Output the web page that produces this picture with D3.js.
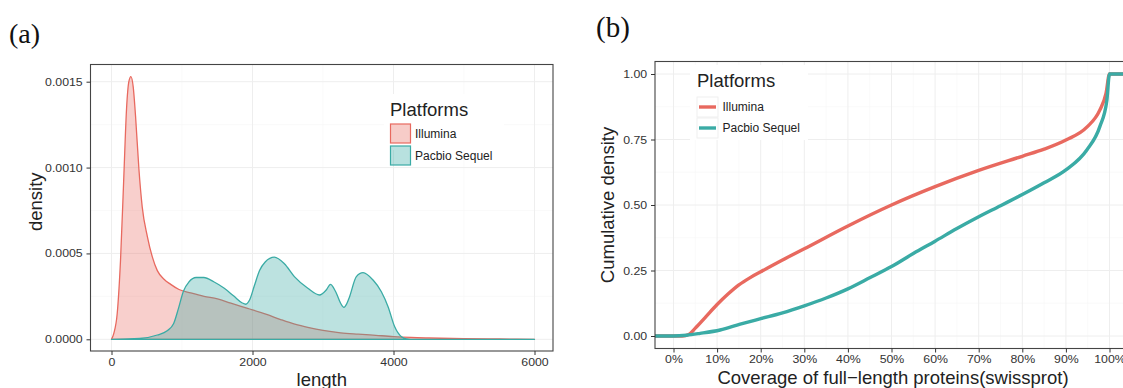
<!DOCTYPE html>
<html>
<head>
<meta charset="utf-8">
<script src="https://cdn.jsdelivr.net/npm/d3@7"></script>
<style>
  body { margin: 0; background: #fff; }
  svg { display: block; font-family: "Liberation Sans", Arial, sans-serif; }
</style>
</head>
<body>
<div id="chart"></div>
<script>
// ---- data ----
const platforms = ["Illumina", "Pacbio Sequel"];

// (a) read-length density
const illuminaLength = [0, 33, 81, 128, 175, 213, 246, 275, 308, 341, 389, 436, 508, 579, 650, 745, 840, 958, 1124, 1313, 1504, 1693, 1931, 2200, 2400, 2600, 2800, 3000, 3250, 3500, 3750, 4000, 4250, 4500, 5000, 5500, 6000];
const illuminaDensity = [0, 0.000035, 0.00015, 0.00046, 0.00095, 0.00134, 0.0015, 0.00153, 0.00147, 0.0013, 0.00099, 0.00077, 0.0006, 0.00048, 0.0004, 0.00035, 0.00032, 0.00029, 0.00027, 0.00025, 0.000235, 0.00021, 0.00018, 0.000145, 0.000115, 0.000088, 0.000068, 0.000052, 0.000038, 0.00003, 0.000023, 0.000016, 0.000011, 0.000008, 0.000004, 0.000002, 0];

const pacbioLength = [0, 400, 650, 790, 880, 950, 1020, 1100, 1200, 1310, 1450, 1600, 1740, 1850, 1905, 1960, 2025, 2100, 2180, 2310, 2452, 2594, 2785, 2950, 3045, 3107, 3150, 3188, 3250, 3297, 3340, 3377, 3473, 3568, 3710, 3828, 3923, 4017, 4113, 4184, 4300, 6000];
const pacbioDensity = [0, 0.000005, 0.000025, 0.00005, 0.00009, 0.00018, 0.00028, 0.000335, 0.00036, 0.00036, 0.000335, 0.000297, 0.00025, 0.000213, 0.000204, 0.00023, 0.00031, 0.0004, 0.00045, 0.000478, 0.00044, 0.000365, 0.000297, 0.000258, 0.000287, 0.00032, 0.0003, 0.00027, 0.00021, 0.000186, 0.00021, 0.000248, 0.000365, 0.000388, 0.000345, 0.000277, 0.00019, 0.000073, 0.000015, 0.000003, 0, 0];

const lengthTicks = [0, 2000, 4000, 6000];
const densityTicks = [0, 0.0005, 0.001, 0.0015];

// (b) cumulative coverage
const illuminaCoverage = [-0.045, 0.02, 0.035, 0.05, 0.075, 0.1, 0.125, 0.15, 0.175, 0.2, 0.25, 0.3, 0.4, 0.5, 0.6, 0.7, 0.8, 0.85, 0.9, 0.948, 0.978, 0.992, 1.0, 1.06];
const illuminaCumulative = [0, 0, 0.006, 0.03, 0.075, 0.12, 0.16, 0.195, 0.222, 0.245, 0.29, 0.333, 0.42, 0.5, 0.57, 0.632, 0.686, 0.713, 0.748, 0.797, 0.863, 0.926, 1.0, 1.0];

const pacbioCoverage = [-0.045, 0, 0.03, 0.061, 0.107, 0.153, 0.2, 0.25, 0.3, 0.35, 0.4, 0.45, 0.5, 0.55, 0.6, 0.65, 0.7, 0.75, 0.8, 0.85, 0.9, 0.948, 0.978, 0.994, 1.0, 1.06];
const pacbioCumulative = [0, 0, 0.003, 0.01, 0.023, 0.045, 0.066, 0.088, 0.115, 0.145, 0.18, 0.222, 0.265, 0.315, 0.362, 0.41, 0.455, 0.497, 0.54, 0.585, 0.634, 0.71, 0.8, 0.9, 1.0, 1.0];

const coverageTicks = [0, 0.1, 0.2, 0.3, 0.4, 0.5, 0.6, 0.7, 0.8, 0.9, 1.0];
const cumulativeTicks = [0, 0.25, 0.5, 0.75, 1.0];

// ---- setup ----
const W = 1123, H = 388;
const colors = { Illumina: "#E8695F", "Pacbio Sequel": "#3AABA5" };
const textCol = "#333";

const svg = d3.select("#chart").append("svg")
  .attr("width", W).attr("height", H)
  .attr("viewBox", [0, 0, W, H]);
svg.append("rect").attr("width", W).attr("height", H).attr("fill", "#fff");

const zip = (a, b) => a.map((v, i) => [v, b[i]]);

function grid(g, x, y, xMajor, yMajor, frame) {
  const xMinor = xMajor.slice(1).map((d, i) => (d + xMajor[i]) / 2);
  const yMinor = yMajor.slice(1).map((d, i) => (d + yMajor[i]) / 2);
  g.selectAll(null).data(xMinor).join("line")
    .attr("x1", x).attr("x2", x).attr("y1", frame.y0).attr("y2", frame.y1)
    .attr("stroke", "#f6f6f6").attr("stroke-width", 0.6);
  g.selectAll(null).data(yMinor).join("line")
    .attr("x1", frame.x0).attr("x2", frame.x1).attr("y1", y).attr("y2", y)
    .attr("stroke", "#f6f6f6").attr("stroke-width", 0.6);
  g.selectAll(null).data(xMajor).join("line")
    .attr("x1", x).attr("x2", x).attr("y1", frame.y0).attr("y2", frame.y1)
    .attr("stroke", "#eeeeee").attr("stroke-width", 1);
  g.selectAll(null).data(yMajor).join("line")
    .attr("x1", frame.x0).attr("x2", frame.x1).attr("y1", y).attr("y2", y)
    .attr("stroke", "#eeeeee").attr("stroke-width", 1);
}

function styleAxis(g) {
  g.select(".domain").remove();
  g.selectAll(".tick line").attr("stroke", textCol);
  g.selectAll(".tick text")
    .attr("fill", textCol)
    .style("font-size", "11px")
    .attr("transform", "scale(1.12,1)");
}

// ====== (a) density panel ======
const frameA = { x0: 90.5, x1: 553, y0: 64.5, y1: 351 };
const xA = d3.scaleLinear().domain([0, 6000]).range([111.5, 534.5]);
const yA = d3.scaleLinear().domain([0, 0.0015]).range([339.3, 81.7]);

svg.append("text").attr("x", 9).attr("y", 43)
  .style("font-family", "'Liberation Serif', 'Times New Roman', serif")
  .style("font-size", "28px").attr("fill", "#111").text("(a)");

const gA = svg.append("g");
gA.append("clipPath").attr("id", "clipA").append("rect")
  .attr("x", frameA.x0).attr("y", frameA.y0)
  .attr("width", frameA.x1 - frameA.x0).attr("height", frameA.y1 - frameA.y0);
grid(gA.append("g"), xA, yA, lengthTicks, densityTicks, frameA);

const area = d3.area()
  .x(d => xA(d[0])).y0(yA(0)).y1(d => yA(d[1]))
  .curve(d3.curveMonotoneX);

const seriesA = [
  { name: "Illumina", pts: zip(illuminaLength, illuminaDensity), op: 0.32 },
  { name: "Pacbio Sequel", pts: zip(pacbioLength, pacbioDensity), op: 0.34 },
];
const plotA = gA.append("g").attr("clip-path", "url(#clipA)");
seriesA.forEach(s => {
  plotA.append("path").datum(s.pts)
    .attr("d", area)
    .attr("fill", colors[s.name]).attr("fill-opacity", s.op)
    .attr("stroke", colors[s.name]).attr("stroke-width", 1.3)
    .attr("stroke-linejoin", "round");
});

gA.append("rect")
  .attr("x", frameA.x0).attr("y", frameA.y0)
  .attr("width", frameA.x1 - frameA.x0).attr("height", frameA.y1 - frameA.y0)
  .attr("fill", "none").attr("stroke", "#444").attr("stroke-width", 1.1);

gA.append("g").attr("transform", `translate(${frameA.x0},0)`)
  .call(d3.axisLeft(yA).tickValues(densityTicks).tickFormat(d3.format(".4f")).tickSize(4).tickPadding(3))
  .call(styleAxis);
gA.append("g").attr("transform", `translate(0,${frameA.y1})`)
  .call(d3.axisBottom(xA).tickValues(lengthTicks).tickFormat(d3.format("d")).tickSize(4).tickPadding(3))
  .call(styleAxis);

gA.append("text").attr("x", (frameA.x0 + frameA.x1) / 2).attr("y", 386)
  .attr("text-anchor", "middle").style("font-size", "18.5px").attr("fill", "#222").text("length");
gA.append("text").attr("transform", `translate(42,${(frameA.y0 + frameA.y1) / 2 - 6}) rotate(-90)`)
  .attr("text-anchor", "middle").style("font-size", "18.5px").attr("fill", "#222").text("density");

// legend (a)
const legA = gA.append("g").attr("transform", "translate(390,116)");
legA.append("rect").attr("x", -6).attr("y", -22).attr("width", 120).attr("height", 56).attr("fill", "#fff");
legA.append("text").attr("x", 0).attr("y", 0).style("font-size", "18.5px").attr("fill", "#222").text("Platforms");
const itemsA = legA.selectAll(".item").data(platforms).join("g")
  .attr("class", "item").attr("transform", (d, i) => `translate(0,${8 + i * 22})`);
itemsA.append("rect").attr("x", 0.5).attr("y", 0).attr("width", 20).attr("height", 19)
  .attr("fill", d => colors[d]).attr("fill-opacity", (d, i) => seriesA[i].op + 0.02)
  .attr("stroke", d => colors[d]).attr("stroke-width", 1.2);
itemsA.append("text").attr("x", 25).attr("y", 14)
  .style("font-size", "12px").attr("fill", "#222").text(d => d);

// ====== (b) cumulative panel ======
const frameB = { x0: 655, x1: 1135, y0: 61.5, y1: 348.5 };
const xB = d3.scaleLinear().domain([0, 1]).range([673.5, 1109.5]);
const yB = d3.scaleLinear().domain([0, 1]).range([336, 74]);

svg.append("text").attr("x", 596).attr("y", 37)
  .style("font-family", "'Liberation Serif', 'Times New Roman', serif")
  .style("font-size", "29px").attr("fill", "#111").text("(b)");

const gB = svg.append("g");
gB.append("clipPath").attr("id", "clipB").append("rect")
  .attr("x", frameB.x0).attr("y", frameB.y0)
  .attr("width", frameB.x1 - frameB.x0).attr("height", frameB.y1 - frameB.y0);
grid(gB.append("g"), xB, yB, coverageTicks, cumulativeTicks, frameB);

const line = d3.line().x(d => xB(d[0])).y(d => yB(d[1])).curve(d3.curveMonotoneX);
const seriesB = [
  { name: "Illumina", pts: zip(illuminaCoverage, illuminaCumulative) },
  { name: "Pacbio Sequel", pts: zip(pacbioCoverage, pacbioCumulative) },
];

// legend (b) background sits under the lines
const legB = gB.append("g").attr("transform", "translate(697,87)");
legB.append("rect").attr("x", -7).attr("y", -22).attr("width", 118).attr("height", 75).attr("fill", "#fff");

const plotB = gB.append("g").attr("clip-path", "url(#clipB)");
seriesB.forEach(s => {
  plotB.append("path").datum(s.pts)
    .attr("d", line).attr("fill", "none")
    .attr("stroke", colors[s.name]).attr("stroke-width", 3.4)
    .attr("stroke-linejoin", "round");
});

gB.append("rect")
  .attr("x", frameB.x0).attr("y", frameB.y0)
  .attr("width", frameB.x1 - frameB.x0).attr("height", frameB.y1 - frameB.y0)
  .attr("fill", "none").attr("stroke", "#444").attr("stroke-width", 1.1);

gB.append("g").attr("transform", `translate(${frameB.x0},0)`)
  .call(d3.axisLeft(yB).tickValues(cumulativeTicks).tickFormat(d3.format(".2f")).tickSize(4).tickPadding(3))
  .call(styleAxis);
gB.append("g").attr("transform", `translate(0,${frameB.y1})`)
  .call(d3.axisBottom(xB).tickValues(coverageTicks).tickFormat(d3.format(".0%")).tickSize(4).tickPadding(3))
  .call(styleAxis);

gB.append("text").attr("x", 893).attr("y", 384)
  .attr("text-anchor", "middle").style("font-size", "18.5px").attr("fill", "#222")
  .text("Coverage of full\u2212length proteins(swissprot)");
gB.append("text").attr("transform", `translate(614,${(frameB.y0 + frameB.y1) / 2}) rotate(-90)`)
  .attr("text-anchor", "middle").style("font-size", "18.5px").attr("fill", "#222").text("Cumulative density");

legB.append("text").attr("x", 0).attr("y", 0).style("font-size", "18.5px").attr("fill", "#222").text("Platforms");
const itemsB = legB.selectAll(".item").data(platforms).join("g")
  .attr("class", "item").attr("transform", (d, i) => `translate(0,${10 + i * 21})`);
itemsB.append("rect").attr("x", 0).attr("y", 0).attr("width", 21).attr("height", 20)
  .attr("fill", "#fff").attr("stroke", "#ececec").attr("stroke-width", 0.8);
itemsB.append("line").attr("x1", 2).attr("x2", 19).attr("y1", 10).attr("y2", 10)
  .attr("stroke", d => colors[d]).attr("stroke-width", 3.4);
itemsB.append("text").attr("x", 25.5).attr("y", 14)
  .style("font-size", "12px").attr("fill", "#222").text(d => d);
</script>
</body>
</html>
